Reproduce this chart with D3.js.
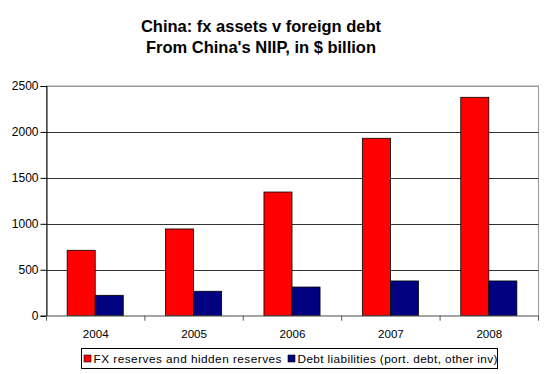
<!DOCTYPE html>
<html><head><meta charset="utf-8">
<script src="https://cdn.jsdelivr.net/npm/d3@7"></script>
<style>body{margin:0;background:#fff;}svg{display:block;font-family:Arial,"Liberation Sans",sans-serif;}</style>
</head><body>
<script>
const years = ["2004","2005","2006","2007","2008"];
const fxReserves = [712, 944, 1346, 1931, 2377];
const debtLiabilities = [222, 266, 312, 378, 378];
const seriesNames = ["FX reserves and hidden reserves","Debt liabilities (port. debt, other inv)"];
const seriesColors = ["#FF0000","#000080"];
const yTicks = [0,500,1000,1500,2000,2500];
const titleLines = ["China: fx assets v foreign debt","From China's NIIP, in $ billion"];

const W=547,H=374;
const m={left:46.5,right:538.5,top:86,bottom:315.7};
const svg=d3.select("body").append("svg").attr("width",W).attr("height",H);

const x=d3.scaleBand().domain(years).range([m.left,m.right]);
const y=d3.scaleLinear().domain([0,2500]).range([m.bottom,m.top]);
const barW=x.bandwidth()*0.285;
const off=x.bandwidth()*0.21;

// title
titleLines.forEach((t,i)=>{
  svg.append("text").attr("x",261).attr("y",32+i*20.5).attr("text-anchor","middle")
    .attr("font-size",16.5).attr("font-weight","bold").attr("fill","#000").text(t);
});

// plot border
svg.append("rect").attr("x",m.left).attr("y",m.top).attr("width",m.right-m.left).attr("height",m.bottom-m.top)
  .attr("fill","none").attr("stroke","#999").attr("stroke-width",1);

// gridlines
svg.append("g").selectAll("line").data(yTicks.filter(d=>d>0)).join("line")
  .attr("x1",m.left).attr("x2",m.right).attr("y1",d=>Math.round(y(d))+0.5).attr("y2",d=>Math.round(y(d))+0.5)
  .attr("stroke",d=>d===2500?"#999":"#333").attr("stroke-width",1);

// bars
const g=svg.append("g");
years.forEach((yr,i)=>{
  [fxReserves[i],debtLiabilities[i]].forEach((v,j)=>{
    g.append("rect").attr("x",x(yr)+off+j*barW).attr("y",y(v)).attr("width",barW).attr("height",y(0)-y(v))
     .attr("fill",seriesColors[j]).attr("stroke","#000").attr("stroke-width",0.8);
  });
});

// y axis
const ya=d3.axisLeft(y).tickValues(yTicks).tickSize(6).tickFormat(d3.format("d"));
const yg=svg.append("g").attr("transform",`translate(${m.left},0)`).call(ya);
yg.select(".domain").attr("stroke","#000");
yg.selectAll(".tick line").attr("stroke","#000");
yg.selectAll(".tick text").attr("font-size",12).attr("font-family","Arial,'Liberation Sans',sans-serif").attr("fill","#000").attr("x",-8);

// x axis
const xa=d3.axisBottom(x).tickSize(0).tickPadding(14);
const xg=svg.append("g").attr("transform",`translate(0,${m.bottom})`).call(xa);
xg.select(".domain").attr("stroke","#888");
xg.selectAll(".tick text").attr("font-size",11.6).attr("font-family","Arial,'Liberation Sans',sans-serif").attr("fill","#000");
// category boundary ticks
xg.append("g").selectAll("line").data(d3.range(years.length+1)).join("line")
  .attr("x1",i=>m.left+i*x.step()).attr("x2",i=>m.left+i*x.step()).attr("y1",0).attr("y2",5).attr("stroke","#555");

// legend
const lg=svg.append("g");
lg.append("rect").attr("x",81.5).attr("y",348.5).attr("width",416).attr("height",20).attr("fill","#fff").attr("stroke","#000");
const lx=[84,288];
const lw=[188,200];
seriesNames.forEach((n,i)=>{
  lg.append("rect").attr("x",lx[i]).attr("y",355).attr("width",7).attr("height",7).attr("fill",seriesColors[i]).attr("stroke","#000").attr("stroke-width",0.6);
  lg.append("text").attr("x",lx[i]+9.5).attr("y",362.5).attr("font-size",11.8).attr("fill","#000")
    .attr("textLength",lw[i]).attr("lengthAdjust","spacing").text(n);
});
</script>
</body></html>
